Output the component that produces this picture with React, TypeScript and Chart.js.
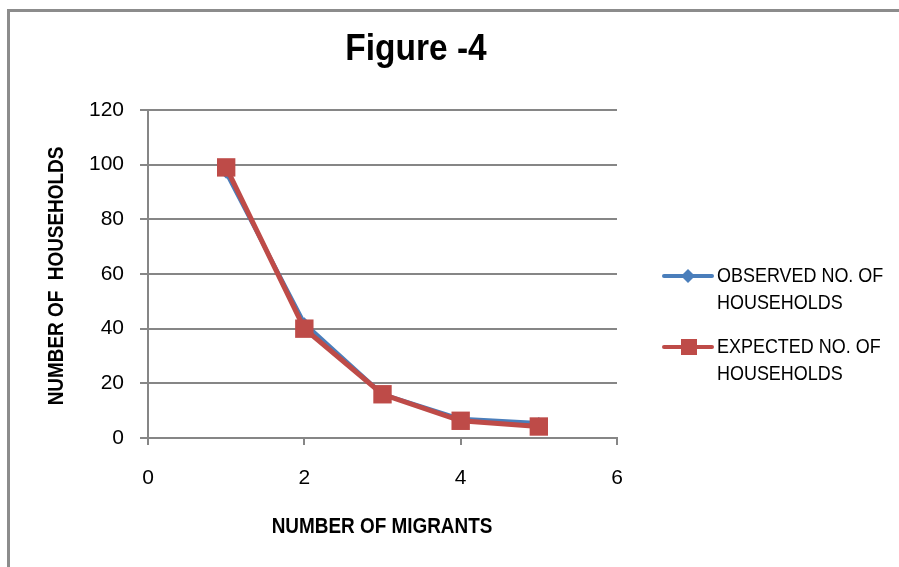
import React, { useEffect, useRef } from "react";
import { Chart, registerables } from "chart.js";

Chart.register(...registerables);

const migrants = [1, 2, 3, 4, 5];
const observed = [97, 42, 16, 7, 5.5];
const expected = [99, 40, 16, 6.3, 4.2];
const seriesNames = [["OBSERVED NO. OF", "HOUSEHOLDS"], ["EXPECTED NO. OF", "HOUSEHOLDS"]];
const chartTitle = "Figure -4";
const xTitle = "NUMBER OF MIGRANTS";
const yTitle = "NUMBER OF  HOUSEHOLDS";

const FONT = "'Liberation Sans', Arial, sans-serif";
const BLUE = "#4a7ebb";
const RED = "#be4b48";
const GRID = "#868686";

function squeezeText(ctx: any, text: string, x: number, y: number, sx: number, rot = 0) {
  ctx.save();
  ctx.translate(x, y);
  if (rot) ctx.rotate(rot);
  ctx.scale(sx, 1);
  ctx.fillText(text, 0, 0);
  ctx.restore();
}

const decor = {
  id: "decor",
  beforeDraw(chart: any) {
    const ctx = chart.ctx;
    ctx.save();
    ctx.fillStyle = "#fff";
    ctx.fillRect(0, 0, chart.width, chart.height);
    ctx.strokeStyle = "#8c8c8c";
    ctx.lineWidth = 3;
    ctx.strokeRect(8.5, 10.5, 1000, 1000);
    ctx.restore();
  },
  afterDraw(chart: any) {
    const ctx = chart.ctx;
    ctx.save();
    ctx.fillStyle = "#000";
    ctx.textBaseline = "middle";
    ctx.textAlign = "center";
    ctx.font = `bold 36px ${FONT}`;
    squeezeText(ctx, chartTitle, 416, 50, 0.93);
    ctx.font = `bold 22px ${FONT}`;
    squeezeText(ctx, xTitle, 382, 527, 0.86);
    squeezeText(ctx, yTitle, 57, 276, 0.86, -Math.PI / 2);
    // legend
    const items = [
      { color: BLUE, style: "rectRot", names: seriesNames[0], y: 276 },
      { color: RED, style: "rect", names: seriesNames[1], y: 347 },
    ];
    ctx.textAlign = "left";
    ctx.font = `21px ${FONT}`;
    for (const it of items) {
      ctx.strokeStyle = it.color;
      ctx.lineWidth = 4;
      ctx.lineCap = "round";
      ctx.beginPath();
      ctx.moveTo(664, it.y);
      ctx.lineTo(712, it.y);
      ctx.stroke();
      ctx.fillStyle = it.color;
      if (it.style === "rect") {
        ctx.fillRect(681, it.y - 8, 16, 16);
      } else {
        ctx.beginPath();
        ctx.moveTo(688, it.y - 7);
        ctx.lineTo(695, it.y);
        ctx.lineTo(688, it.y + 7);
        ctx.lineTo(681, it.y);
        ctx.closePath();
        ctx.fill();
      }
      ctx.fillStyle = "#000";
      squeezeText(ctx, it.names[0], 717, it.y, 0.855);
      squeezeText(ctx, it.names[1], 717, it.y + 27, 0.855);
    }
    ctx.restore();
  },
};

export default function App() {
  const ref = useRef<HTMLCanvasElement>(null);
  useEffect(() => {
    if (!ref.current) return;
    const chart = new Chart(ref.current, {
      type: "scatter",
      data: {
        datasets: [
          {
            label: seriesNames[0].join(" "),
            data: migrants.map((x, i) => ({ x, y: observed[i] })),
            showLine: true,
            borderColor: BLUE,
            backgroundColor: BLUE,
            borderWidth: 4,
            pointStyle: "rectRot",
            pointRadius: 6,
            pointBorderWidth: 0,
            order: 2,
          },
          {
            label: seriesNames[1].join(" "),
            data: migrants.map((x, i) => ({ x, y: expected[i] })),
            showLine: true,
            borderColor: RED,
            backgroundColor: RED,
            borderWidth: 5,
            pointStyle: "rect",
            pointRadius: 13,
            pointBorderWidth: 0,
            order: 1,
          },
        ],
      },
      options: {
        animation: false,
        responsive: false,
        layout: { padding: { top: 110, right: 282, left: 0, bottom: 0 } },
        plugins: { legend: { display: false }, tooltip: { enabled: false }, title: { display: false } },
        scales: {
          x: {
            type: "linear",
            min: 0,
            max: 6,
            afterFit: (s: any) => { s.height = 129; },
            ticks: { stepSize: 2, padding: 21, color: "#000", font: { family: FONT, size: 21 } },
            grid: { display: true, drawOnChartArea: false, drawTicks: true, tickLength: 7, color: GRID, lineWidth: 2 },
            border: { display: true, color: GRID, width: 2 },
          },
          y: {
            min: 0,
            max: 120,
            afterFit: (s: any) => { s.width = 148; },
            ticks: { stepSize: 20, padding: 16, color: "#000", font: { family: FONT, size: 21 } },
            grid: { display: true, drawTicks: true, tickLength: 8, color: GRID, lineWidth: 2 },
            border: { display: true, color: GRID, width: 2 },
          },
        },
      },
      plugins: [decor],
    });
    return () => chart.destroy();
  }, []);
  return (
    <div style={{ position: "fixed", left: 0, top: 0, width: 899, height: 567 }}>
      <canvas ref={ref} width={899} height={567} style={{ width: 899, height: 567, display: "block" }} />
    </div>
  );
}
